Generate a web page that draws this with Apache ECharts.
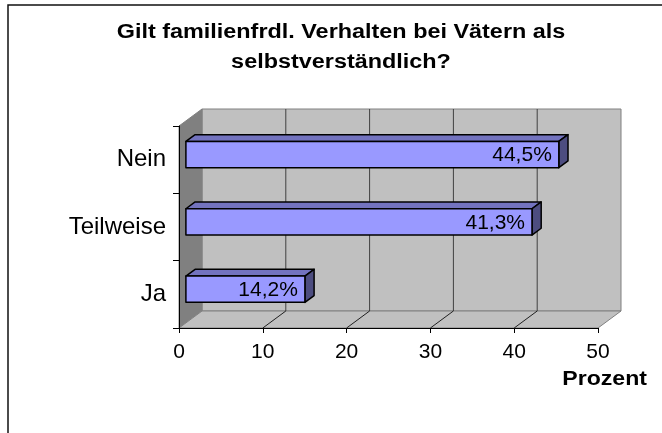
<!DOCTYPE html>
<html>
<head>
<meta charset="utf-8">
<script src="https://cdn.jsdelivr.net/npm/echarts@6/dist/echarts.min.js"></script>
<style>
    html, body { margin: 0; padding: 0; background: #fff; }
    #chart { width: 662px; height: 433px; }
</style>
</head>
<body>
<div id="chart"></div>
<script>
    // Werte aus der Vorlage
    var categories = ['Ja', 'Teilweise', 'Nein'];
    var values = [14.2, 41.3, 44.5];
    var xTicks = [0, 10, 20, 30, 40, 50];

    // Tiefe der 3D-Darstellung (Pixel)
    var DX = 23, DY = 17;

    function fmt(v) {
        return v.toFixed(1).replace('.', ',') + '%';
    }

    function renderWalls(params, api) {
        var cs = params.coordSys;
        var x0 = cs.x, x1 = cs.x + cs.width, y0 = cs.y, y1 = cs.y + cs.height;
        var children = [
            // Rückwand
            {
                type: 'polygon',
                shape: {points: [[x0 + DX, y0 - DY], [x1 + DX, y0 - DY], [x1 + DX, y1 - DY], [x0 + DX, y1 - DY]]},
                style: {fill: '#c0c0c0', stroke: '#808080', lineWidth: 1}
            },
            // Seitenwand
            {
                type: 'polygon',
                shape: {points: [[x0, y0], [x0 + DX, y0 - DY], [x0 + DX, y1 - DY], [x0, y1]]},
                style: {fill: '#808080', stroke: '#808080', lineWidth: 1}
            },
            // Boden
            {
                type: 'polygon',
                shape: {points: [[x0, y1], [x1, y1], [x1 + DX, y1 - DY], [x0 + DX, y1 - DY]]},
                style: {fill: '#c0c0c0', stroke: '#808080', lineWidth: 1}
            }
        ];
        xTicks.slice(1, -1).forEach(function (t) {
            var p = api.coord([t, 0]);
            children.push({
                type: 'line',
                shape: {x1: p[0] + DX, y1: y0 - DY, x2: p[0] + DX, y2: y1 - DY},
                style: {stroke: '#404040', lineWidth: 1}
            });
            children.push({
                type: 'line',
                shape: {x1: p[0], y1: y1, x2: p[0] + DX, y2: y1 - DY},
                style: {stroke: '#202020', lineWidth: 1}
            });
        });
        return {type: 'group', children: children};
    }

    function renderBar(params, api) {
        var v = api.value(0);
        var start = api.coord([0, api.value(1)]);
        var end = api.coord([v, api.value(1)]);
        var h = api.size([0, 1])[1] * 0.39;
        var fx = DX * 0.3, fy = -DY * 0.3;
        var bx = DX * 0.4, by = DY * 0.4;
        var xa = start[0] + fx, xb = end[0] + fx;
        var ya = end[1] + fy - h / 2, yb = ya + h;
        var line = {stroke: '#000', lineWidth: 1.5, lineJoin: 'round'};
        return {
            type: 'group',
            children: [
                {
                    type: 'polygon',
                    shape: {points: [[xa, ya], [xb, ya], [xb + bx, ya - by], [xa + bx, ya - by]]},
                    style: Object.assign({fill: '#7373bf'}, line)
                },
                {
                    type: 'polygon',
                    shape: {points: [[xb, ya], [xb + bx, ya - by], [xb + bx, yb - by], [xb, yb]]},
                    style: Object.assign({fill: '#4d4d80'}, line)
                },
                {
                    type: 'rect',
                    shape: {x: xa, y: ya, width: xb - xa, height: h},
                    style: Object.assign({fill: '#9999ff'}, line)
                },
                {
                    type: 'text',
                    style: {
                        text: fmt(v),
                        x: xb - 7,
                        y: (ya + yb) / 2 + 1,
                        align: 'right', textAlign: 'right',
                        verticalAlign: 'middle', textVerticalAlign: 'middle',
                        font: '21px "Liberation Sans", Arial, sans-serif',
                        fill: '#000'
                    }
                }
            ]
        };
    }

    var chart = echarts.init(document.getElementById('chart'));
    chart.setOption({
        animation: false,
        textStyle: {fontFamily: '"Liberation Sans", Arial, sans-serif'},
        graphic: [
            {
                type: 'rect',
                shape: {x: 8, y: 5, width: 700, height: 500},
                style: {fill: 'none', stroke: '#111', lineWidth: 1.5},
                silent: true
            },
            {
                type: 'text',
                x: 341, y: 47,
                scaleX: 1.17,
                style: {
                    text: 'Gilt familienfrdl. Verhalten bei Vätern als\nselbstverständlich?',
                    x: 0, y: 0,
                    align: 'center', textAlign: 'center',
                    verticalAlign: 'middle', textVerticalAlign: 'middle',
                    lineHeight: 30,
                    font: 'bold 20px "Liberation Sans", Arial, sans-serif',
                    fill: '#000'
                }
            },
            {
                type: 'text',
                x: 647, y: 379,
                scaleX: 1.1,
                style: {
                    text: 'Prozent',
                    x: 0, y: 0,
                    align: 'right', textAlign: 'right',
                    verticalAlign: 'middle', textVerticalAlign: 'middle',
                    font: 'bold 21px "Liberation Sans", Arial, sans-serif',
                    fill: '#000'
                }
            }
        ],
        grid: {left: 179, right: 64, top: 126, bottom: 105},
        xAxis: {
            type: 'value',
            min: 0,
            max: 50,
            interval: 10,
            z: 5,
            axisLine: {show: true, lineStyle: {color: '#000', width: 1}},
            axisTick: {show: true, length: 5, lineStyle: {color: '#000'}},
            axisLabel: {fontSize: 21, color: '#000', margin: 14},
            splitLine: {show: false}
        },
        yAxis: {
            type: 'category',
            data: categories,
            z: 5,
            axisLine: {show: true, lineStyle: {color: '#000', width: 1}},
            axisTick: {show: true, length: 6, lineStyle: {color: '#000'}},
            axisLabel: {fontSize: 24, color: '#000', margin: 13},
            splitLine: {show: false}
        },
        series: [
            {
                type: 'custom',
                name: 'walls',
                z: 1,
                silent: true,
                renderItem: renderWalls,
                data: [[0, 0]]
            },
            {
                type: 'custom',
                name: 'Prozent',
                z: 3,
                renderItem: renderBar,
                encode: {x: 0, y: 1},
                data: values.map(function (v, i) { return [v, i]; })
            }
        ]
    });
</script>
</body>
</html>
